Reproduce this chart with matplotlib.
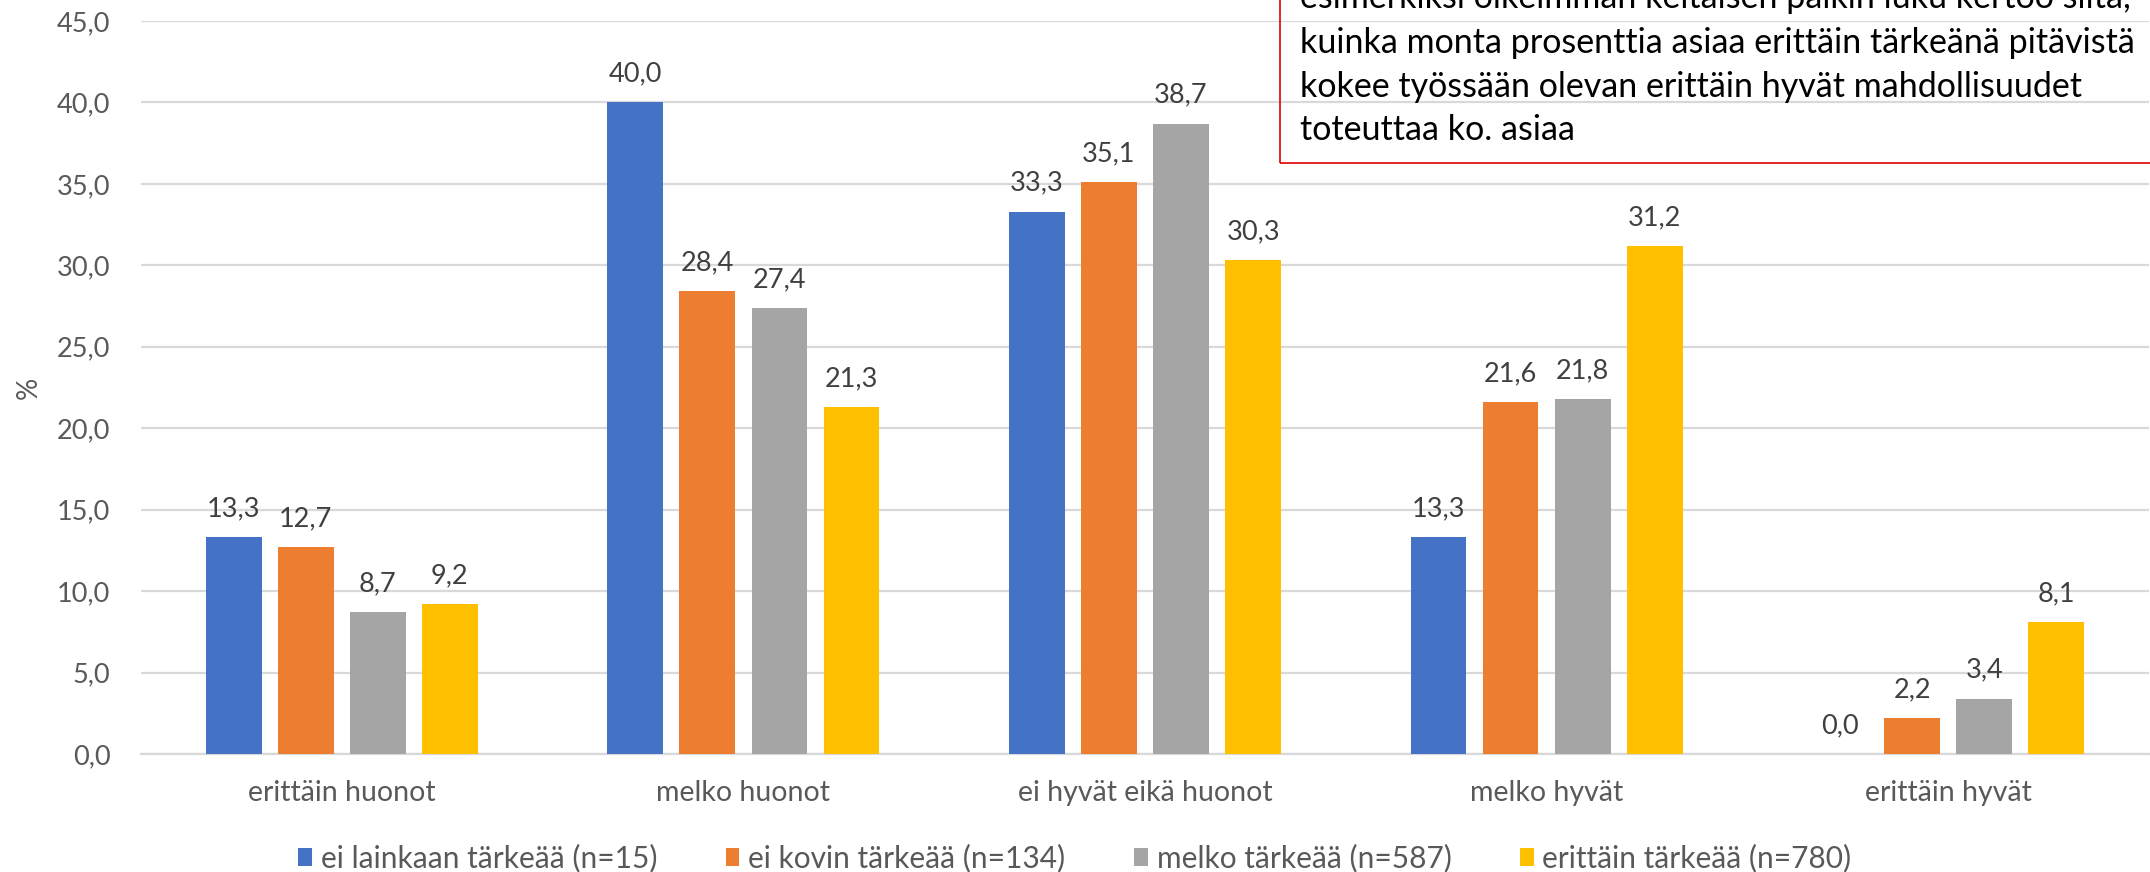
import matplotlib
matplotlib.use("Agg")
import matplotlib.pyplot as plt
import numpy as np
from matplotlib.patches import Rectangle

categories = ["erittäin huonot", "melko huonot", "ei hyvät eikä huonot", "melko hyvät", "erittäin hyvät"]
series_names = ["ei lainkaan tärkeää (n=15)", "ei kovin tärkeää (n=134)",
                "melko tärkeää (n=587)", "erittäin tärkeää (n=780)"]
ei_lainkaan = [13.3, 40.0, 33.3, 13.3, 0.0]
ei_kovin = [12.7, 28.4, 35.1, 21.6, 2.2]
melko = [8.7, 27.4, 38.7, 21.8, 3.4]
erittain = [9.2, 21.3, 30.3, 31.2, 8.1]
yticks = [0, 5, 10, 15, 20, 25, 30, 35, 40, 45]
note_lines = [
    "esimerkiksi oikeimman keltaisen palkin luku kertoo siitä,",
    "kuinka monta prosenttia asiaa erittäin tärkeänä pitävistä",
    "kokee työssään olevan erittäin hyvät mahdollisuudet",
    "toteuttaa ko. asiaa",
]

colors = ["#4472C4", "#ED7D31", "#A5A5A5", "#FFC000"]
plt.rcParams["font.family"] = ["Lato", "DejaVu Sans"]

W, H = 2150, 872
fig = plt.figure(figsize=(W / 100, H / 100), dpi=100)
ax = fig.add_axes([141 / W, 1 - 754 / H, (2149 - 141) / W, (754 - 21) / H])

x = np.arange(len(categories))
bar_w = 0.139
step = 0.1795
all_series = [ei_lainkaan, ei_kovin, melko, erittain]
for i, (vals, name, col) in enumerate(zip(all_series, series_names, colors)):
    pos = x + (i - 1.5) * step
    bars = ax.bar(pos, vals, width=bar_w, color=col, label=name, zorder=3)
    for b, v in zip(bars, vals):
        ax.annotate(f"{v:.1f}".replace(".", ","),
                    (b.get_x() + b.get_width() / 2, v),
                    xytext=(0, 15), textcoords="offset points",
                    ha="center", va="baseline", fontsize=19.5, color="#404040")

ax.set_xlim(-0.5, len(categories) - 0.5)
ax.set_ylim(0, 45)
ax.set_yticks(yticks)
ax.set_yticklabels([f"{t:.1f}".replace(".", ",") for t in yticks])
ax.set_xticks(x)
ax.set_xticklabels(categories)
ax.tick_params(axis="y", length=0, labelsize=19.5, labelcolor="#595959", pad=22)
ax.tick_params(axis="x", length=0, labelsize=20.5, labelcolor="#595959", pad=19)
ax.grid(axis="y", color="#D9D9D9", linewidth=1.6, zorder=0)
ax.set_axisbelow(True)
for s in ["top", "right", "left"]:
    ax.spines[s].set_visible(False)
ax.spines["bottom"].set_color("#D9D9D9")
ax.spines["bottom"].set_linewidth(1.6)
ax.set_ylabel("%", fontsize=20, color="#595959", labelpad=11)

fig.legend(loc="center", bbox_to_anchor=(0.5, 1 - 858 / H), ncol=4, frameon=False,
           fontsize=21.5, labelcolor="#595959", handlelength=0.45, handleheight=0.55,
           handletextpad=0.3, columnspacing=2.3, borderpad=0.1)

# note box in the upper right corner
fig.patches.append(Rectangle((1280 / W, 1 - 163 / H), 0.5, 0.5, transform=fig.transFigure,
                             fill=False, edgecolor="#E00000", linewidth=1.2))
for yb, line in zip([8, 53, 97, 140], note_lines):
    fig.text(1300 / W, 1 - yb / H, line, fontsize=24.5, color="black",
             ha="left", va="baseline")

fig.savefig("out.png", dpi=100)
